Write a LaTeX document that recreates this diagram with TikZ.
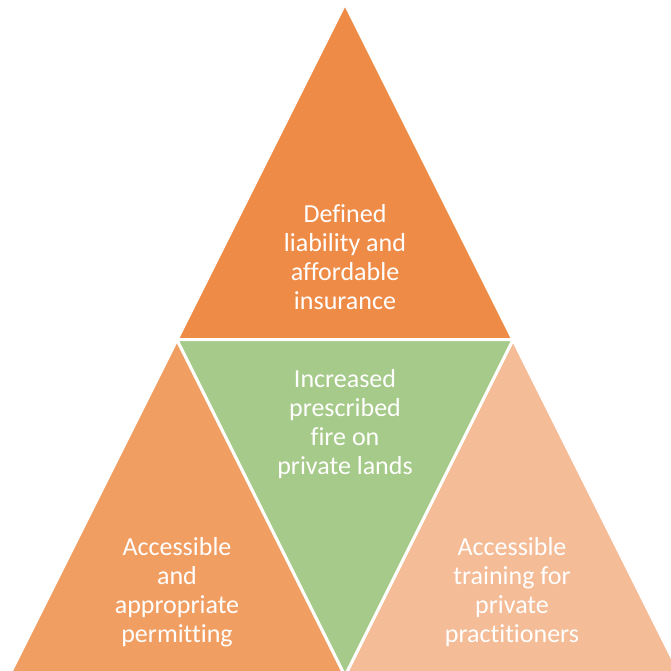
\documentclass[tikz,border=0pt]{standalone}
\usepackage{fontspec}
\setmainfont[Ligatures=NoCommon]{Carlito}
\definecolor{topc}{HTML}{EE8B47}
\definecolor{leftc}{HTML}{F19E62}
\definecolor{rightc}{HTML}{F4BC97}
\definecolor{greenc}{HTML}{A6CA89}
\begin{document}
\begin{tikzpicture}[x=1pt,y=-1pt,
  tri/.style={draw=white,line width=3pt,line join=miter},
  lbl/.style={align=center,text=white,font=\fontsize{26}{29}\selectfont,inner sep=0pt}]
\useasboundingbox (0,0) rectangle (671,671);
\clip (0,0) rectangle (671,671);
\coordinate (A) at (345,3.7);
\coordinate (L) at (177,339.7);
\coordinate (R) at (513,339.7);
\coordinate (BL) at (9,675.7);
\coordinate (BM) at (345,675.7);
\coordinate (BR) at (681,675.7);
\fill[white] (0,0) rectangle (671,671);
\filldraw[tri,fill=topc] (A) -- (L) -- (R) -- cycle;
\filldraw[tri,fill=leftc] (L) -- (BL) -- (BM) -- cycle;
\filldraw[tri,fill=rightc] (R) -- (BM) -- (BR) -- cycle;
\filldraw[tri,fill=greenc] (L) -- (R) -- (BM) -- cycle;
\node[lbl] (toplbl) at (345,257) {Defined\\liability and\\affordable\\insurance};
\node[lbl] (midlbl) at (345,424) {Increased\\prescribed\\fire on\\private lands};
\node[lbl] (leftlbl) at (177,592) {Accessible\\and\\appropriate\\permitting};
\node[lbl] (rightlbl) at (512,592) {Accessible\\training for\\private\\practitioners};
\end{tikzpicture}
\end{document}
